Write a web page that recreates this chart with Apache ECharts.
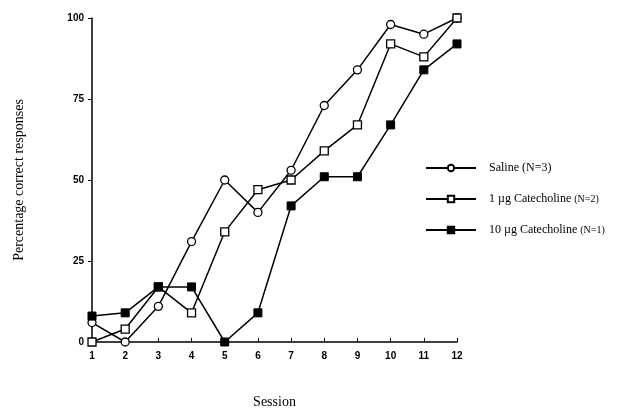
<!DOCTYPE html>
<html>
<head>
<meta charset="utf-8">
<script src="https://cdn.jsdelivr.net/npm/echarts@6/dist/echarts.min.js"></script>
<style>
  html, body { margin: 0; padding: 0; background: #fff; }
  #chart { width: 644px; height: 415px; }
</style>
</head>
<body>
<div id="chart"></div>
<script>
// Learning curves: percentage of correct responses per session
const sessions = ['1', '2', '3', '4', '5', '6', '7', '8', '9', '10', '11', '12'];
const saline = [6, 0, 11, 31, 50, 40, 53, 73, 84, 98, 95, 100];
const cat1 = [0, 4, 17, 9, 34, 47, 50, 59, 67, 92, 88, 100];
const cat10 = [8, 9, 17, 17, 0, 9, 42, 51, 51, 67, 84, 92];
const yTicks = [0, 25, 50, 75, 100];

const seriesNames = ['Saline (N=3)', '1 µg Catecholine (N=2)', '10 µg Catecholine (N=1)'];

const chart = echarts.init(document.getElementById('chart'));

const lineStyle = { color: '#000', width: 1.5 };

chart.setOption({
  backgroundColor: '#fff',
  animation: false,
  grid: { left: 92, right: 187, top: 18, bottom: 73 },
  legend: {
    orient: 'vertical',
    left: 420,
    top: 157,
    itemWidth: 50,
    itemHeight: 8,
    itemGap: 19,
    data: seriesNames,
    textStyle: {
      fontFamily: 'Liberation Serif',
      fontSize: 12,
      color: '#000',
      padding: [0, 0, 0, 8],
      rich: {
        n: { fontFamily: 'Liberation Serif', fontSize: 10, color: '#000' }
      }
    },
    formatter: function (name) {
      const i = name.indexOf(' (');
      if (i < 0 || name.indexOf('Saline') === 0) return name;
      return name.slice(0, i) + ' {n|' + name.slice(i + 1) + '}';
    }
  },
  xAxis: {
    type: 'category',
    data: sessions,
    boundaryGap: false,
    name: 'Session',
    nameLocation: 'middle',
    nameGap: 53,
    nameTextStyle: { fontFamily: 'Liberation Serif', fontSize: 14, color: '#000' },
    axisLine: { lineStyle: { color: '#000', width: 1.5 } },
    axisTick: { inside: true, length: 4, lineStyle: { color: '#000', width: 1 } },
    axisLabel: {
      color: '#000', fontFamily: 'Liberation Sans', fontWeight: 'bold', fontSize: 10, margin: 9
    },
    splitLine: { show: false }
  },
  yAxis: {
    type: 'value',
    min: 0,
    max: 100,
    interval: 25,
    name: 'Percentage correct responses',
    nameLocation: 'middle',
    nameGap: 66,
    nameTextStyle: { fontFamily: 'Liberation Serif', fontSize: 14, color: '#000' },
    axisLine: { show: true, lineStyle: { color: '#000', width: 1.5 } },
    axisTick: { show: true, length: 4, lineStyle: { color: '#000', width: 1 } },
    axisLabel: {
      color: '#000', fontFamily: 'Liberation Sans', fontWeight: 'bold', fontSize: 10, margin: 8,
      formatter: function (v) { return yTicks.indexOf(v) >= 0 ? String(v) : ''; }
    },
    splitLine: { show: false }
  },
  series: [
    {
      name: seriesNames[0], type: 'line', data: saline,
      symbol: 'circle', symbolSize: 8,
      itemStyle: { color: '#fff', borderColor: '#000', borderWidth: 1.3 },
      lineStyle: lineStyle, z: 3
    },
    {
      name: seriesNames[1], type: 'line', data: cat1,
      symbol: 'rect', symbolSize: 8,
      itemStyle: { color: '#fff', borderColor: '#000', borderWidth: 1.3 },
      lineStyle: lineStyle, z: 4
    },
    {
      name: seriesNames[2], type: 'line', data: cat10,
      symbol: 'rect', symbolSize: 8,
      itemStyle: { color: '#000', borderColor: '#000', borderWidth: 1 },
      lineStyle: lineStyle, z: 5
    }
  ]
});
</script>
</body>
</html>
